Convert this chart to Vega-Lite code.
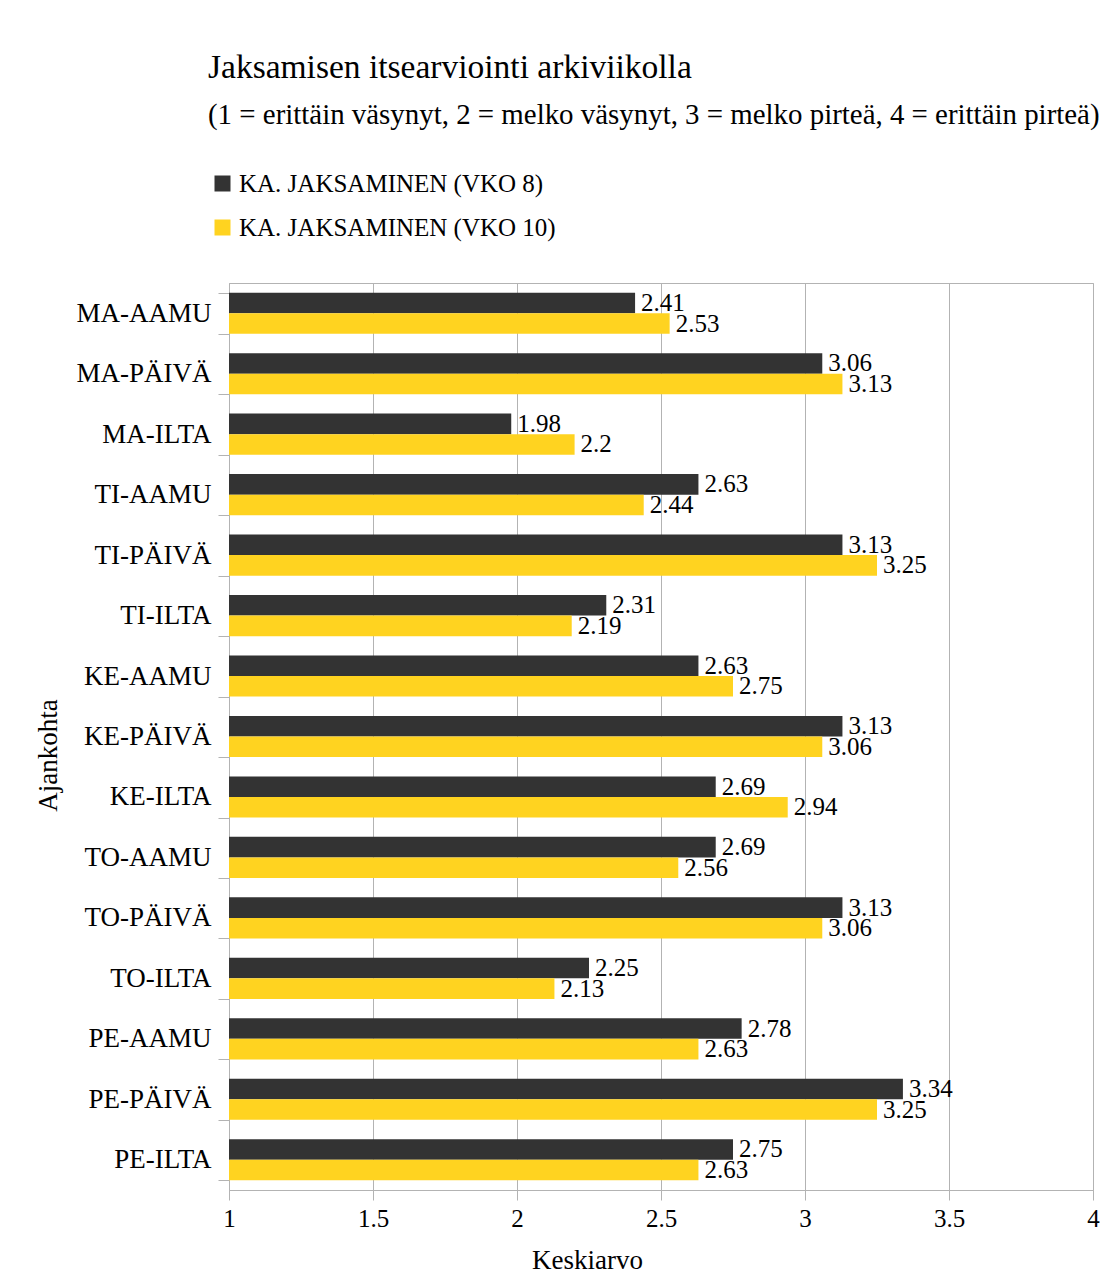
{
  "$schema": "https://vega.github.io/schema/vega-lite/v6.json",
  "width": 864,
  "height": 907,
  "autosize": {"type": "none"},
  "padding": {"left": 229, "top": 283, "right": 25, "bottom": 88},
  "background": "white",
  "title": {
    "text": "Jaksamisen itsearviointi arkiviikolla",
    "subtitle": "(1 = erittäin väsynyt, 2 = melko väsynyt, 3 = melko pirteä, 4 = erittäin pirteä)",
    "anchor": "start",
    "frame": "group",
    "font": "Liberation Serif",
    "fontSize": 33.5,
    "fontWeight": "normal",
    "color": "black",
    "subtitleFont": "Liberation Serif",
    "subtitleFontSize": 28.9,
    "subtitleColor": "black",
    "subtitlePadding": 16,
    "dx": -21,
    "offset": 40
  },
  "data": {
    "values": [
      {"aika": "MA-AAMU", "sarja": "KA. JAKSAMINEN (VKO 8)", "arvo": 2.41},
      {"aika": "MA-AAMU", "sarja": "KA. JAKSAMINEN (VKO 10)", "arvo": 2.53},
      {"aika": "MA-PÄIVÄ", "sarja": "KA. JAKSAMINEN (VKO 8)", "arvo": 3.06},
      {"aika": "MA-PÄIVÄ", "sarja": "KA. JAKSAMINEN (VKO 10)", "arvo": 3.13},
      {"aika": "MA-ILTA", "sarja": "KA. JAKSAMINEN (VKO 8)", "arvo": 1.98},
      {"aika": "MA-ILTA", "sarja": "KA. JAKSAMINEN (VKO 10)", "arvo": 2.2},
      {"aika": "TI-AAMU", "sarja": "KA. JAKSAMINEN (VKO 8)", "arvo": 2.63},
      {"aika": "TI-AAMU", "sarja": "KA. JAKSAMINEN (VKO 10)", "arvo": 2.44},
      {"aika": "TI-PÄIVÄ", "sarja": "KA. JAKSAMINEN (VKO 8)", "arvo": 3.13},
      {"aika": "TI-PÄIVÄ", "sarja": "KA. JAKSAMINEN (VKO 10)", "arvo": 3.25},
      {"aika": "TI-ILTA", "sarja": "KA. JAKSAMINEN (VKO 8)", "arvo": 2.31},
      {"aika": "TI-ILTA", "sarja": "KA. JAKSAMINEN (VKO 10)", "arvo": 2.19},
      {"aika": "KE-AAMU", "sarja": "KA. JAKSAMINEN (VKO 8)", "arvo": 2.63},
      {"aika": "KE-AAMU", "sarja": "KA. JAKSAMINEN (VKO 10)", "arvo": 2.75},
      {"aika": "KE-PÄIVÄ", "sarja": "KA. JAKSAMINEN (VKO 8)", "arvo": 3.13},
      {"aika": "KE-PÄIVÄ", "sarja": "KA. JAKSAMINEN (VKO 10)", "arvo": 3.06},
      {"aika": "KE-ILTA", "sarja": "KA. JAKSAMINEN (VKO 8)", "arvo": 2.69},
      {"aika": "KE-ILTA", "sarja": "KA. JAKSAMINEN (VKO 10)", "arvo": 2.94},
      {"aika": "TO-AAMU", "sarja": "KA. JAKSAMINEN (VKO 8)", "arvo": 2.69},
      {"aika": "TO-AAMU", "sarja": "KA. JAKSAMINEN (VKO 10)", "arvo": 2.56},
      {"aika": "TO-PÄIVÄ", "sarja": "KA. JAKSAMINEN (VKO 8)", "arvo": 3.13},
      {"aika": "TO-PÄIVÄ", "sarja": "KA. JAKSAMINEN (VKO 10)", "arvo": 3.06},
      {"aika": "TO-ILTA", "sarja": "KA. JAKSAMINEN (VKO 8)", "arvo": 2.25},
      {"aika": "TO-ILTA", "sarja": "KA. JAKSAMINEN (VKO 10)", "arvo": 2.13},
      {"aika": "PE-AAMU", "sarja": "KA. JAKSAMINEN (VKO 8)", "arvo": 2.78},
      {"aika": "PE-AAMU", "sarja": "KA. JAKSAMINEN (VKO 10)", "arvo": 2.63},
      {"aika": "PE-PÄIVÄ", "sarja": "KA. JAKSAMINEN (VKO 8)", "arvo": 3.34},
      {"aika": "PE-PÄIVÄ", "sarja": "KA. JAKSAMINEN (VKO 10)", "arvo": 3.25},
      {"aika": "PE-ILTA", "sarja": "KA. JAKSAMINEN (VKO 8)", "arvo": 2.75},
      {"aika": "PE-ILTA", "sarja": "KA. JAKSAMINEN (VKO 10)", "arvo": 2.63}
    ]
  },
  "encoding": {
    "y": {
      "field": "aika",
      "type": "nominal",
      "sort": null,
      "scale": {"paddingInner": 0.32, "paddingOuter": 0.16},
      "axis": {
        "title": "Ajankohta",
        "tickBand": "extent",
        "tickSize": 11,
        "tickColor": "#b3b3b3",
        "domainColor": "#b3b3b3",
        "labelPadding": 7,
        "labelFontSize": 27,
        "labelColor": "black",
        "titleFontSize": 27,
        "titleFontWeight": "normal",
        "titleColor": "black",
        "titleX": -181,
        "titleY": 472,
        "titleBaseline": "middle",
        "titleAngle": -90
      }
    },
    "yOffset": {
      "field": "sarja",
      "type": "nominal",
      "sort": ["KA. JAKSAMINEN (VKO 8)", "KA. JAKSAMINEN (VKO 10)"],
      "scale": {"paddingInner": 0, "paddingOuter": 0}
    },
    "x": {
      "field": "arvo",
      "type": "quantitative",
      "scale": {"domain": [1, 4], "nice": false, "zero": false},
      "axis": {
        "title": "Keskiarvo",
        "values": [1, 1.5, 2, 2.5, 3, 3.5, 4],
        "format": "~g",
        "grid": true,
        "gridColor": "#b3b3b3",
        "tickSize": 10,
        "tickColor": "#b3b3b3",
        "domainColor": "#b3b3b3",
        "labelPadding": 6,
        "labelFontSize": 25,
        "labelColor": "black",
        "labelFlush": false,
        "titleFontSize": 27,
        "titleFontWeight": "normal",
        "titleColor": "black",
        "titleX": 358,
        "titleY": 70,
        "titleBaseline": "middle"
      }
    }
  },
  "layer": [
    {
      "mark": {"type": "bar"},
      "encoding": {
        "x2": {"datum": 1},
        "color": {
          "field": "sarja",
          "type": "nominal",
          "scale": {
            "domain": ["KA. JAKSAMINEN (VKO 8)", "KA. JAKSAMINEN (VKO 10)"],
            "range": ["#333333", "#FFD320"]
          },
          "legend": {
            "title": null,
            "orient": "none",
            "legendX": -19,
            "legendY": -112,
            "padding": 0,
            "symbolType": "square",
            "symbolSize": 256,
            "symbolStrokeWidth": 0,
            "labelFontSize": 25,
            "labelColor": "black",
            "labelLimit": 0,
            "labelOffset": 4,
            "rowPadding": 18
          }
        }
      }
    },
    {
      "mark": {"type": "text", "align": "left", "baseline": "middle", "dx": 6, "fontSize": 25, "color": "black"},
      "encoding": {
        "text": {"field": "arvo", "type": "quantitative", "format": "~g"}
      }
    }
  ],
  "config": {
    "font": "Liberation Serif",
    "view": {"stroke": "#b3b3b3"},
    "axis": {"labelFont": "Liberation Serif", "titleFont": "Liberation Serif"},
    "legend": {"labelFont": "Liberation Serif"}
  }
}
